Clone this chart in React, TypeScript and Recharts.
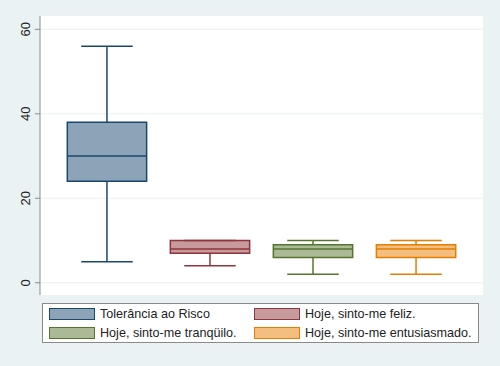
import React from "react";
import {
  ComposedChart,
  XAxis,
  YAxis,
  CartesianGrid,
  ReferenceArea,
  ReferenceLine,
  Scatter,
  Legend,
} from "recharts";

const categories = [
  "Tolerância ao Risco",
  "Hoje, sinto-me feliz.",
  "Hoje, sinto-me tranqüilo.",
  "Hoje, sinto-me entusiasmado.",
];
const positions = [1, 2, 3, 4];
const mins = [5, 4, 2, 2];
const q1s = [24, 7, 6, 6];
const medians = [30, 8, 8, 8];
const q3s = [38, 10, 9, 9];
const maxs = [56, 10, 10, 10];
const yTicks = [0, 20, 40, 60];

const strokes = ["#1a476f", "#90353b", "#55752f", "#e37e00"];
const fills = ["#8ca3b8", "#c79a9d", "#aaba97", "#f3be7f"];

const BOX_HALF = 0.385;
const CAP_HALF = 0.25;

const medianData = positions.map((p, i) => ({ x: p, y: medians[i] }));

const FONT = "'Liberation Sans', Arial, sans-serif";

const YTick = (props: any) => {
  const { y, payload } = props;
  return (
    <text
      x={30}
      y={y}
      transform={`rotate(-90, 30, ${y})`}
      textAnchor="middle"
      fontSize={13}
      fontFamily={FONT}
      fill="#222"
    >
      {payload.value}
    </text>
  );
};

const LegendContent = () => (
  <div
    style={{
      width: 437,
      height: 40,
      background: "#fff",
      border: "1px solid #8a8a8a",
      boxSizing: "border-box",
      display: "grid",
      gridTemplateColumns: "205px auto",
      gridTemplateRows: "19px 19px",
      paddingLeft: 6,
      paddingTop: 0,
      fontFamily: FONT,
      fontSize: 12.6,
      color: "#222",
      overflow: "visible",
    }}
  >
    {categories.map((c, i) => (
      <div key={c} style={{ display: "flex", alignItems: "center", height: 19 }}>
        <span
          style={{
            display: "inline-block",
            flex: "0 0 auto",
            width: 44,
            height: 10,
            background: fills[i],
            border: `1px solid ${strokes[i]}`,
            marginRight: 5,
          }}
        />
        <span style={{ whiteSpace: "nowrap" }}>{c}</span>
      </div>
    ))}
  </div>
);

export default function App() {
  return (
    <div
      style={{
        position: "absolute",
        left: 0,
        top: 0,
        width: 500,
        height: 366,
        background: "#eaf2f3",
      }}
    >
      <ComposedChart
        width={500}
        height={366}
        margin={{ top: 16, right: 17, bottom: 31, left: 0 }}
        data={medianData}
      >
        <CartesianGrid
          horizontal
          vertical={false}
          fill="#ffffff"
          stroke="#eaf2f3"
          horizontalValues={yTicks}
        />
        <XAxis
          type="number"
          dataKey="x"
          domain={[0.35, 4.65]}
          allowDataOverflow
          tick={false}
          tickLine={false}
          height={0}
          axisLine={{ stroke: "#8a8a8a" }}
        />
        <YAxis
          type="number"
          domain={[-2.9, 63.15]}
          allowDataOverflow
          ticks={yTicks}
          width={40}
          tick={<YTick />}
          tickSize={5}
          tickLine={{ stroke: "#8a8a8a" }}
          axisLine={{ stroke: "#8a8a8a" }}
        />
        {positions.map((p, i) => (
          <ReferenceLine
            key={`wu${i}`}
            segment={[
              { x: p, y: q3s[i] },
              { x: p, y: maxs[i] },
            ]}
            stroke={strokes[i]}
            strokeWidth={1.5}
          />
        ))}
        {positions.map((p, i) => (
          <ReferenceLine
            key={`wl${i}`}
            segment={[
              { x: p, y: mins[i] },
              { x: p, y: q1s[i] },
            ]}
            stroke={strokes[i]}
            strokeWidth={1.5}
          />
        ))}
        {positions.map((p, i) => (
          <ReferenceLine
            key={`cu${i}`}
            segment={[
              { x: p - CAP_HALF, y: maxs[i] },
              { x: p + CAP_HALF, y: maxs[i] },
            ]}
            stroke={strokes[i]}
            strokeWidth={1.5}
          />
        ))}
        {positions.map((p, i) => (
          <ReferenceLine
            key={`cl${i}`}
            segment={[
              { x: p - CAP_HALF, y: mins[i] },
              { x: p + CAP_HALF, y: mins[i] },
            ]}
            stroke={strokes[i]}
            strokeWidth={1.5}
          />
        ))}
        {positions.map((p, i) => (
          <ReferenceArea
            key={`b${i}`}
            x1={p - BOX_HALF}
            x2={p + BOX_HALF}
            y1={q1s[i]}
            y2={q3s[i]}
            fill={fills[i]}
            fillOpacity={1}
            stroke={strokes[i]}
            strokeWidth={1.5}
          />
        ))}
        {positions.map((p, i) => (
          <ReferenceLine
            key={`m${i}`}
            segment={[
              { x: p - BOX_HALF, y: medians[i] },
              { x: p + BOX_HALF, y: medians[i] },
            ]}
            stroke={strokes[i]}
            strokeWidth={1.5}
          />
        ))}
        <Scatter
          dataKey="y"
          isAnimationActive={false}
          shape={() => <g />}
          legendType="none"
        />
        <Legend
          content={<LegendContent />}
          wrapperStyle={{ position: "absolute", left: 42, top: 303, width: 437, height: 40, bottom: "auto" }}
        />
      </ComposedChart>
    </div>
  );
}
